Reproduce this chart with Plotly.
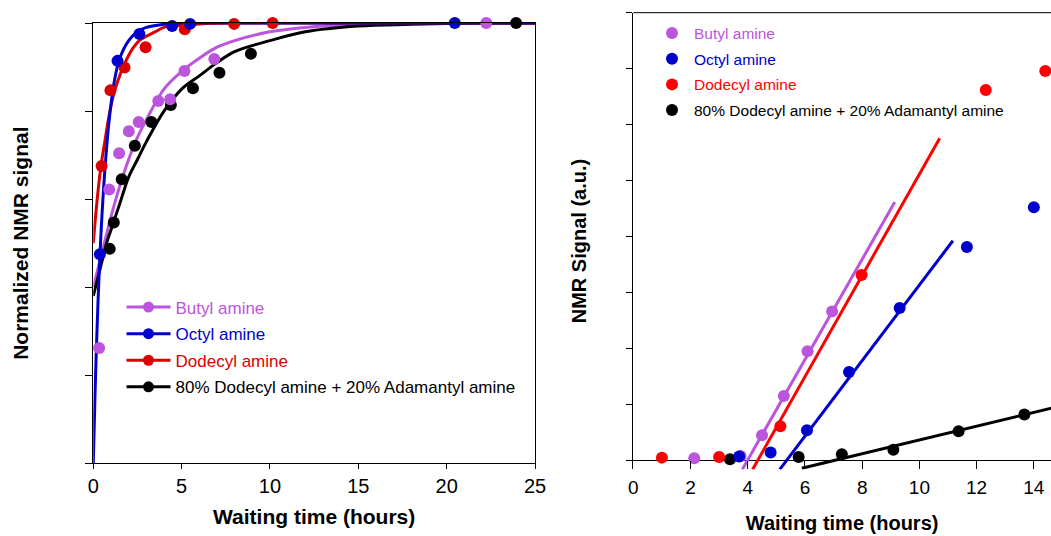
import plotly.graph_objects as go

FONT = "Liberation Sans, Arial, sans-serif"
W, H = 1051, 536

C_BUTYL = "#BB55DD"
C_OCTYL = "#0000CC"
C_DODEC_L = "#DD0000"
C_DODEC_R = "#FF0000"
C_MIX = "#000000"

series_names = ["Butyl amine", "Octyl amine", "Dodecyl amine",
                "80% Dodecyl amine + 20% Adamantyl amine"]

# ---------------- left panel: normalized NMR signal ----------------
butyl_x = [0.33, 0.9, 1.46, 2.01, 2.57, 3.68, 4.35, 5.16, 6.85, 22.24]
butyl_y = [0.262, 0.622, 0.704, 0.754, 0.775, 0.823, 0.827, 0.891, 0.918, 1.0]
octyl_x = [0.37, 1.37, 2.61, 4.46, 5.48, 20.46]
octyl_y = [0.475, 0.914, 0.975, 0.993, 0.998, 1.0]
dodec_x = [0.47, 0.97, 1.77, 2.96, 5.18, 7.97, 10.15]
dodec_y = [0.675, 0.847, 0.899, 0.945, 0.986, 0.998, 1.0]
mix_x = [0.93, 1.16, 1.61, 2.35, 3.29, 4.39, 5.64, 7.14, 8.92, 23.93]
mix_y = [0.487, 0.547, 0.645, 0.721, 0.775, 0.814, 0.852, 0.887, 0.93, 1.0]

# fitted curves
butyl_fit_x = [0, 0.25, 0.5, 0.75, 1.0, 1.5, 2.0, 2.5, 3.0, 4.0, 5.0, 6.0, 7.0, 8.0, 10, 12, 15, 18, 22, 25]
butyl_fit_y = [0.40, 0.44, 0.48, 0.52, 0.56, 0.63, 0.69, 0.74, 0.78, 0.85, 0.89, 0.92, 0.945, 0.96, 0.98, 0.99, 0.997, 0.999, 1.0, 1.0]
octyl_fit_x = [0, 0.1, 0.2, 0.35, 0.5, 0.7, 0.9, 1.2, 1.5, 2.0, 2.5, 3.0, 4.0, 5.0, 8.0, 25]
octyl_fit_y = [0, 0.16, 0.29, 0.45, 0.57, 0.69, 0.78, 0.87, 0.92, 0.96, 0.98, 0.99, 0.997, 1.0, 1.0, 1.0]
dodec_fit_x = [0, 0.15, 0.3, 0.45, 0.65, 0.85, 1.1, 1.4, 1.8, 2.2, 2.6, 3.0, 3.5, 4.0, 5.0, 6.0, 8.0, 25]
dodec_fit_y = [0.50, 0.57, 0.63, 0.68, 0.73, 0.78, 0.83, 0.87, 0.91, 0.94, 0.96, 0.97, 0.98, 0.99, 0.995, 0.998, 1.0, 1.0]
mix_fit_x = [0, 0.25, 0.5, 0.75, 1.0, 1.5, 2.0, 2.5, 3.0, 4.0, 5.0, 6.0, 7.0, 8.0, 10, 12, 15, 18, 22, 25]
mix_fit_y = [0.38, 0.42, 0.46, 0.50, 0.53, 0.59, 0.65, 0.69, 0.73, 0.80, 0.85, 0.88, 0.91, 0.935, 0.96, 0.98, 0.993, 0.997, 1.0, 1.0]

left_xticks = [0, 5, 10, 15, 20, 25]

# ---------------- right panel: raw NMR signal ----------------
r_butyl_x = [2.13, 3.75, 4.5, 5.26, 6.09, 6.95]
r_butyl_y = [0.05, 0.09, 0.46, 1.16, 1.96, 2.67]
r_octyl_x = [3.7, 4.8, 6.07, 7.54, 9.31, 11.66, 14.0]
r_octyl_y = [0.08, 0.15, 0.55, 1.59, 2.73, 3.82, 4.53]
r_dodec_x = [1.0, 3.0, 5.14, 7.98, 12.32, 14.4]
r_dodec_y = [0.06, 0.07, 0.62, 3.32, 6.62, 6.96]
r_mix_x = [3.38, 5.78, 7.29, 9.09, 11.37, 13.67]
r_mix_y = [0.03, 0.07, 0.12, 0.20, 0.53, 0.83]

# linear fits (end points)
r_butyl_line_x = [3.81, 9.14]
r_butyl_line_y = [-0.15, 4.62]
r_dodec_line_x = [4.17, 10.71]
r_dodec_line_y = [-0.15, 5.76]
r_octyl_line_x = [5.12, 11.17]
r_octyl_line_y = [-0.15, 3.93]
r_mix_line_x = [5.89, 14.8]
r_mix_line_y = [-0.13, 0.965]

right_xticks = [0, 2, 4, 6, 8, 10, 12, 14]

# ---------------- layout geometry (pixels) ----------------
Lx0, Lx1, Ly0, Ly1 = 93.3, 535.0, 23.0, 463.3
Rx0, Rx1, Ry0, Ry1 = 633.3, 1051.0, 12.7, 469.4

fig = go.Figure()

# left: fitted curves
for fx, fy, c in [(butyl_fit_x, butyl_fit_y, C_BUTYL), (mix_fit_x, mix_fit_y, C_MIX),
                  (dodec_fit_x, dodec_fit_y, C_DODEC_L), (octyl_fit_x, octyl_fit_y, C_OCTYL)]:
    fig.add_trace(go.Scatter(x=fx, y=fy, mode="lines", line=dict(color=c, width=3, shape="spline"),
                             showlegend=False, hoverinfo="skip", xaxis="x", yaxis="y"))
# left: data points
for px, py, c in [(mix_x, mix_y, C_MIX), (butyl_x, butyl_y, C_BUTYL),
                  (dodec_x, dodec_y, C_DODEC_L), (octyl_x, octyl_y, C_OCTYL)]:
    fig.add_trace(go.Scatter(x=px, y=py, mode="markers", marker=dict(color=c, size=12),
                             cliponaxis=False, showlegend=False, xaxis="x", yaxis="y"))
# left legend entries (line + marker)
for i, (nm, c) in enumerate(zip(series_names, [C_BUTYL, C_OCTYL, C_DODEC_L, C_MIX])):
    fig.add_trace(go.Scatter(x=[None], y=[None], mode="lines+markers",
                             name=f"<span style='color:{c}'>{nm}</span>",
                             line=dict(color=c, width=3), marker=dict(color=c, size=11),
                             legend="legend", legendgroup=f"L{i}", legendrank=i + 1,
                             xaxis="x", yaxis="y"))

# right: linear fits
for lx, ly, c in [(r_butyl_line_x, r_butyl_line_y, C_BUTYL), (r_dodec_line_x, r_dodec_line_y, C_DODEC_R),
                  (r_octyl_line_x, r_octyl_line_y, C_OCTYL), (r_mix_line_x, r_mix_line_y, C_MIX)]:
    fig.add_trace(go.Scatter(x=lx, y=ly, mode="lines", line=dict(color=c, width=3),
                             showlegend=False, hoverinfo="skip", xaxis="x2", yaxis="y2"))
# right: data points (with legend)
right_sets = [(r_mix_x, r_mix_y, C_MIX, 3), (r_dodec_x, r_dodec_y, C_DODEC_R, 2),
              (r_butyl_x, r_butyl_y, C_BUTYL, 0), (r_octyl_x, r_octyl_y, C_OCTYL, 1)]
for px, py, c, k in right_sets:
    fig.add_trace(go.Scatter(x=px, y=py, mode="markers", marker=dict(color=c, size=12),
                             name=f"<span style='color:{c}'>{series_names[k]}</span>",
                             cliponaxis=False, legend="legend2", legendgroup=f"R{k}",
                             legendrank=k + 1, xaxis="x2", yaxis="y2"))

axis_common = dict(showgrid=False, zeroline=False, linecolor="black", linewidth=1,
                   tickcolor="black", tickwidth=1, automargin=False)

fig.update_layout(
    width=W, height=H, margin=dict(l=0, r=0, t=0, b=0, autoexpand=False),
    paper_bgcolor="white", plot_bgcolor="white",
    font=dict(family=FONT, color="black"),
    xaxis=dict(**axis_common, domain=[Lx0 / W, Lx1 / W], range=[0, 25], tickvals=left_xticks,
               ticks="outside", ticklen=5, showline=True, mirror=True,
               tickfont=dict(size=20),
               title=dict(text="<b>Waiting time (hours)</b>", font=dict(size=21), standoff=13),
               anchor="y"),
    yaxis=dict(**axis_common, domain=[1 - Ly1 / H, 1 - Ly0 / H], range=[0, 1], dtick=0.2,
               ticks="outside", ticklen=7, showticklabels=False, showline=True, mirror=True,
               title=dict(text="<b>Normalized NMR signal</b>", font=dict(size=21), standoff=50),
               anchor="x"),
    xaxis2=dict(**axis_common, domain=[Rx0 / W, Rx1 / W], range=[0, 14.6], tickvals=right_xticks,
                ticks="inside", ticklen=8, showline=False,
                tickfont=dict(size=19), ticklabelstandoff=5,
                title=dict(text="<b>Waiting time (hours)</b>", font=dict(size=20), standoff=18),
                anchor="y2"),
    yaxis2=dict(showgrid=False, linecolor="black", linewidth=1, tickcolor="black", tickwidth=1,
                automargin=False,
                domain=[1 - Ry1 / H, 1 - Ry0 / H], range=[-0.15, 8], dtick=1,
                ticks="outside", ticklen=6, showticklabels=False, showline=True,
                zeroline=True, zerolinecolor="black", zerolinewidth=1,
                title=dict(text="<b>NMR Signal (a.u.)</b>", font=dict(size=20), standoff=34),
                anchor="x2"),
    legend=dict(x=121.5 / W, y=1 - 289.5 / H, xanchor="left", yanchor="top",
                bgcolor="rgba(0,0,0,0)", font=dict(size=17), itemwidth=44,
                traceorder="grouped", tracegroupgap=1.5),
    legend2=dict(x=650 / W, y=1 - 16.5 / H, xanchor="left", yanchor="top",
                 bgcolor="rgba(0,0,0,0)", font=dict(size=15.5), itemwidth=34,
                 traceorder="grouped", tracegroupgap=2.5),
    shapes=[dict(type="line", xref="paper", yref="paper", x0=Rx0 / W, x1=1, y0=1 - Ry0 / H, y1=1 - Ry0 / H,
                 line=dict(color="black", width=1))],
)

fig.write_html("out.html", config={"displayModeBar": False},
               post_script="document.body.style.margin='0px';")
